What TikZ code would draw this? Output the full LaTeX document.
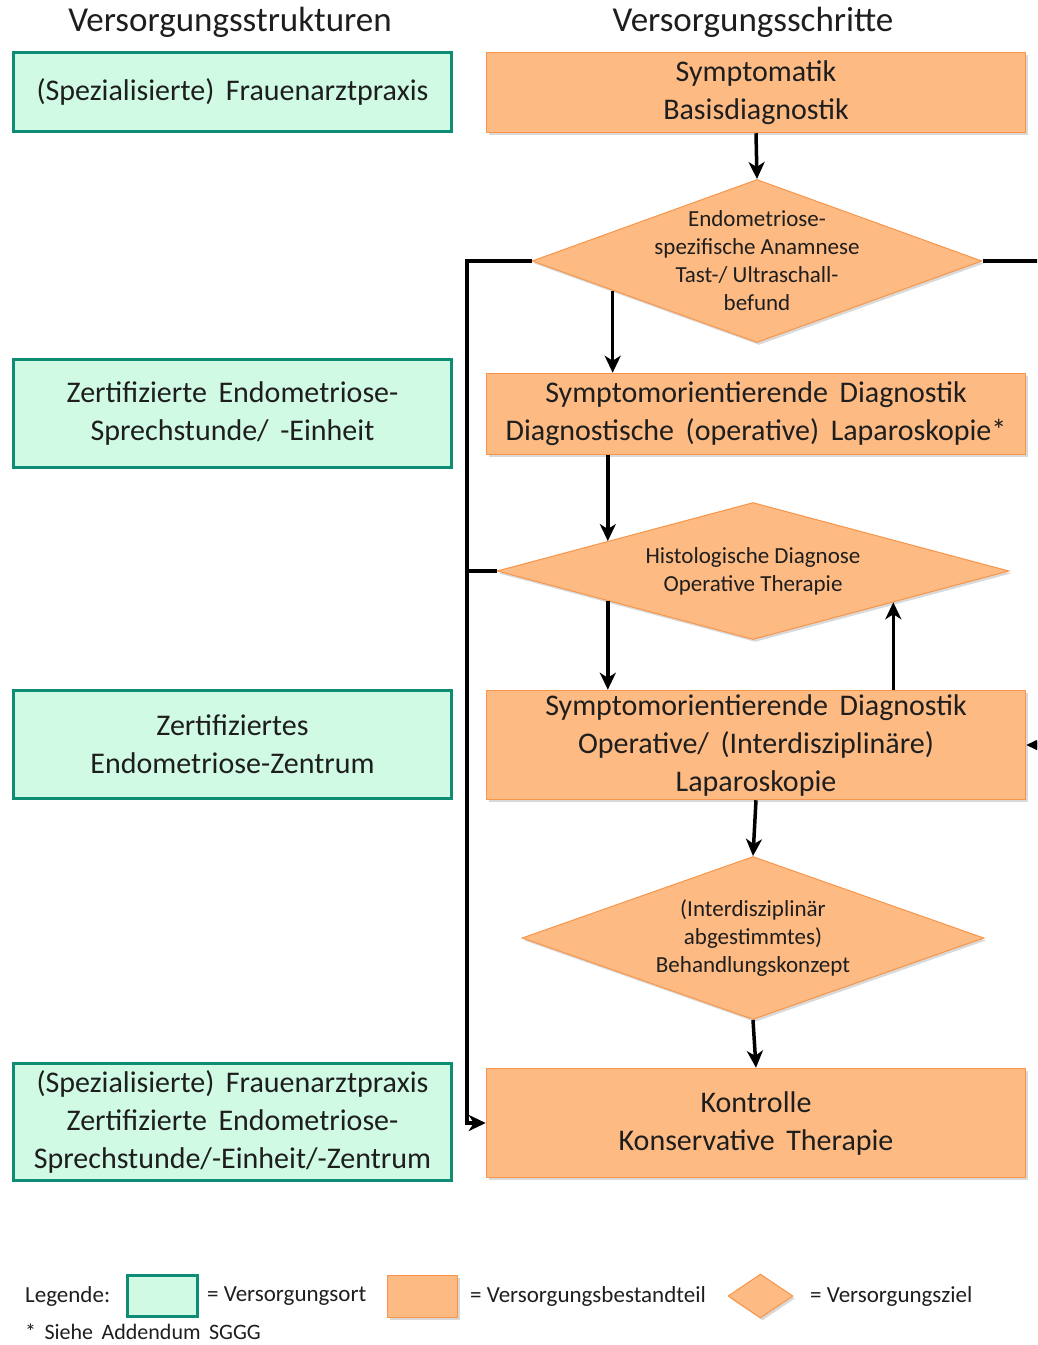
\documentclass[tikz,border=0pt]{standalone}
\usepackage{fontspec}
\setmainfont{Carlito}
\newfontfamily\boxfont[WordSpace=1.7]{Carlito}
\usetikzlibrary{shapes.geometric, arrows.meta, calc, shadows}
\definecolor{ortfill}{HTML}{D0FAE4}
\definecolor{ortline}{HTML}{0E8C74}
\definecolor{teilfill}{HTML}{FDBA82}
\definecolor{teilline}{HTML}{F7964A}
\definecolor{textgray}{HTML}{1E1E1E}
\tikzset{
ort/.style={draw=ortline, fill=ortfill, line width=3.5pt, minimum width=438pt,
  inner sep=0pt, align=center, text=textgray, font=\boxfont\fontsize{30}{38}\selectfont},
teil/.style={draw=teilline, fill=teilfill, line width=1.5pt, minimum width=539pt,
  inner sep=0pt, align=center, text=textgray, font=\boxfont\fontsize{30}{38}\selectfont,
  drop shadow={shadow xshift=2pt, shadow yshift=-2.5pt, opacity=0.3}},
ziel/.style={diamond, draw=teilline, fill=teilfill, line width=1pt, inner sep=0pt,
  drop shadow={shadow xshift=2pt, shadow yshift=-2.5pt, opacity=0.3}},
zieltext/.style={align=center, text=textgray, font=\fontsize{23}{28}\selectfont},
kopf/.style={text=textgray, font=\fontsize{35}{40}\selectfont},
legtext/.style={anchor=west, inner sep=0pt, text=textgray, font=\fontsize{23}{27}\selectfont},
flow/.style={line width=3.5pt, -{Stealth[length=17pt, width=16pt, inset=5pt]}},
line/.style={line width=3.5pt}
}

\begin{document}
\begin{tikzpicture}[x=1pt, y=-1pt]
\clip (0,0) rectangle (1037,1345);
\node[kopf] (hl) at (230,22) {Versorgungsstrukturen};
\node[kopf] (hr) at (753,22) {Versorgungsschritte};

\node[ort, minimum height=79pt] (g1) at (232.5,92) {(Spezialisierte) Frauenarztpraxis};
\node[ort, minimum height=108pt] (g2) at (232.5,413.5) {Zertifizierte Endometriose-\\Sprechstunde/ -Einheit};
\node[ort, minimum height=108pt] (g3) at (232.5,744.5) {Zertifiziertes\\Endometriose-Zentrum};
\node[ort, minimum height=117pt] (g4) at (232.5,1122) {(Spezialisierte) Frauenarztpraxis\\Zertifizierte Endometriose-\\Sprechstunde/-Einheit/-Zentrum};

\node[teil, minimum height=80pt] (o1) at (756,92.5) {Symptomatik\\Basisdiagnostik};
\node[ziel, minimum width=450pt, minimum height=163pt,
  label={[zieltext]center:{Endometriose-\\spezifische Anamnese\\Tast-/ Ultraschall-\\befund}}] (d1) at (757,261) {};
\node[teil, minimum height=81pt] (o2) at (756,414) {Symptomorientierende Diagnostik\\Diagnostische (operative) Laparoskopie*};
\node[ziel, minimum width=512pt, minimum height=137pt,
  label={[zieltext]center:{Histologische Diagnose\\Operative Therapie}}] (d2) at (753,571) {};
\node[teil, minimum height=109pt] (o3) at (756,745) {Symptomorientierende Diagnostik\\Operative/ (Interdisziplinäre)\\Laparoskopie};
\node[ziel, minimum width=462pt, minimum height=163pt,
  label={[zieltext]center:{(Interdisziplinär\\abgestimmtes)\\Behandlungskonzept}}] (d3) at (753,938) {};
\node[teil, minimum height=109pt] (o4) at (756,1123) {Kontrolle\\Konservative Therapie};

\coordinate (a1) at ($(d1.west)!.36!(d1.south)$);
\coordinate (b1) at ($(d2.west)!.434!(d2.north)$);
\coordinate (b2) at ($(d2.west)!.434!(d2.south)$);
\coordinate (b3) at ($(d2.east)!.453!(d2.south)$);
\coordinate (bus) at ([xshift=-19pt]o4.west);

\draw[flow] (o1.south) -- (d1.north);
\draw[flow] (a1) -- (a1 |- o2.north);
\draw[flow] (b1 |- o2.south) -- (b1);
\draw[flow] (b2) -- (b2 |- o3.north);
\draw[flow] (b3 |- o3.north) -- (b3);
\draw[flow] (o3.south) -- (d3.north);
\draw[flow] (d3.south) -- (o4.north);
\draw[flow] (d1.west) -| (bus) -- (o4.west);
\draw[line] (d2.west) -- (d2.west -| bus);
\draw[flow] (d1.east) -- ++(80,0) |- (o3.east);

\node[legtext] (leg) at (25,1296) {Legende:};
\node[ort, line width=3.5pt, minimum width=70pt, minimum height=41pt] (lg1) at (162.5,1296) {};
\node[legtext] (lt1) at (207,1296) {= Versorgungsort};
\node[teil, minimum width=70pt, minimum height=42pt] (lg2) at (422.5,1296.5) {};
\node[legtext] (lt2) at (470,1296) {= Versorgungsbestandteil};
\node[ziel, minimum width=65pt, minimum height=44pt] (lg3) at (760.5,1296) {};
\node[legtext] (lt3) at (810,1296) {= Versorgungsziel};
\node[legtext, font=\boxfont\fontsize{22}{27}\selectfont] (note) at (25,1332) {* Siehe Addendum SGGG};
\end{tikzpicture}
\end{document}
